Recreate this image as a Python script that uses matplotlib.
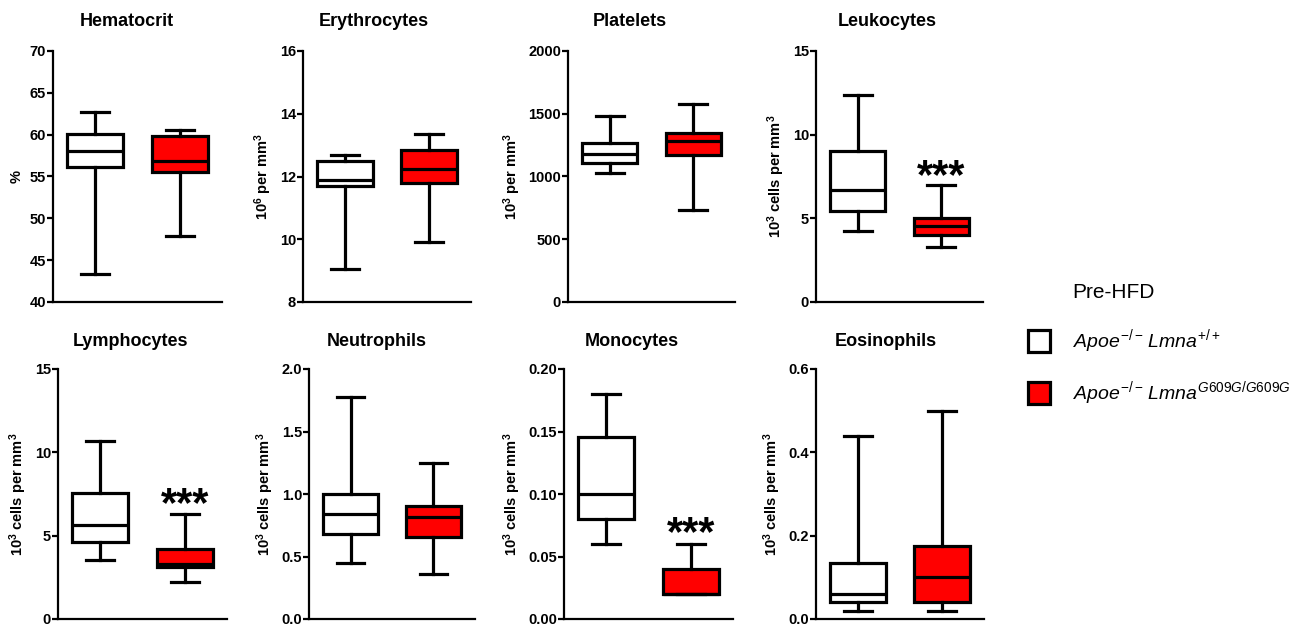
import matplotlib
matplotlib.use('Agg')
import matplotlib.pyplot as plt
from matplotlib.patches import Rectangle

plt.rcParams['font.family'] = ['Liberation Sans', 'DejaVu Sans']
plt.rcParams['mathtext.fontset'] = 'custom'
plt.rcParams['mathtext.rm'] = 'Liberation Sans'
plt.rcParams['mathtext.it'] = 'Liberation Sans:italic'
plt.rcParams['mathtext.bf'] = 'Liberation Sans:bold'

# --- data (min, Q1, median, Q3, max) ---
titles = ['Hematocrit', 'Erythrocytes', 'Platelets', 'Leukocytes',
          'Lymphocytes', 'Neutrophils', 'Monocytes', 'Eosinophils']
cells = '10$^\\mathbf{3}$ cells per mm$^\\mathbf{3}$'
ylabels = ['%', '10$^\\mathbf{6}$ per mm$^\\mathbf{3}$', '10$^\\mathbf{3}$ per mm$^\\mathbf{3}$',
           cells, cells, cells, cells, cells]
ylims = [(40, 70), (8, 16), (0, 2000), (0, 15), (0, 15), (0, 2.0), (0, 0.20), (0, 0.6)]
yticks = [[40, 45, 50, 55, 60, 65, 70], [8, 10, 12, 14, 16], [0, 500, 1000, 1500, 2000],
          [0, 5, 10, 15], [0, 5, 10, 15], [0.0, 0.5, 1.0, 1.5, 2.0],
          [0.00, 0.05, 0.10, 0.15, 0.20], [0.0, 0.2, 0.4, 0.6]]
tickfmt = ['%d', '%d', '%d', '%d', '%d', '%.1f', '%.2f', '%.1f']

wt_min = [43.4, 9.05, 1030, 4.24, 3.54, 0.446, 0.06, 0.02]
wt_q1 = [56.1, 11.7, 1110, 5.42, 4.63, 0.68, 0.08, 0.04]
wt_med = [58.1, 11.9, 1182, 6.67, 5.62, 0.837, 0.10, 0.06]
wt_q3 = [60.05, 12.5, 1267, 9.04, 7.55, 1.0, 0.1456, 0.134]
wt_max = [62.7, 12.7, 1482, 12.39, 10.69, 1.78, 0.18, 0.44]

mut_min = [47.9, 9.9, 736, 3.29, 2.25, 0.359, 0.02, 0.02]
mut_q1 = [55.5, 11.8, 1174, 4.02, 3.12, 0.659, 0.02, 0.04]
mut_med = [56.85, 12.25, 1286, 4.52, 3.32, 0.82, 0.02, 0.102]
mut_q3 = [59.8, 12.85, 1349, 5.02, 4.2, 0.908, 0.04, 0.1745]
mut_max = [60.6, 13.35, 1578, 7.01, 6.3, 1.246, 0.06, 0.50]

# significance marks (*** p<0.001) above the mutant box
stars_y = [None, None, None, 7.45, 6.83, None, 0.068, None]

# --- layout (pixels) ---
W, H = 1304, 626
lefts = [53, 303, 568, 816, 58, 309, 564, 816]
rights = [222, 471, 735, 983, 227, 475, 733, 984]
tops = [51, 51, 51, 51, 369, 369, 369, 369]
bottoms = [302, 302, 302, 302, 619, 619, 619, 619]
title_x = [127, 374, 630, 887, 130, 377, 632, 886]
title_y = [21, 21, 21, 21, 341, 341, 341, 341]

LW = 2.3
fig = plt.figure(figsize=(W / 100, H / 100), dpi=100)

for i in range(8):
    ax = fig.add_axes([lefts[i] / W, 1 - bottoms[i] / H,
                       (rights[i] - lefts[i]) / W, (bottoms[i] - tops[i]) / H])
    stats = [
        dict(whislo=wt_min[i], q1=wt_q1[i], med=wt_med[i], q3=wt_q3[i], whishi=wt_max[i], fliers=[]),
        dict(whislo=mut_min[i], q1=mut_q1[i], med=mut_med[i], q3=mut_q3[i], whishi=mut_max[i], fliers=[]),
    ]
    bp = ax.bxp(stats, positions=[1, 2], widths=0.66, capwidths=0.33, patch_artist=True,
                showfliers=False,
                boxprops=dict(linewidth=LW, edgecolor='black'),
                whiskerprops=dict(linewidth=LW, color='black'),
                capprops=dict(linewidth=LW, color='black'),
                medianprops=dict(linewidth=LW, color='black'))
    bp['boxes'][0].set_facecolor('white')
    bp['boxes'][1].set_facecolor('#ff0000')
    for b in bp['boxes']:
        b.set_joinstyle('miter')

    ax.set_xlim(0.5, 2.5)
    ax.set_ylim(*ylims[i])
    ax.set_yticks(yticks[i])
    ax.set_yticklabels([tickfmt[i] % v for v in yticks[i]], fontweight='bold', fontsize=10.5)
    ax.set_xticks([])
    for s in ['top', 'right']:
        ax.spines[s].set_visible(False)
    for s in ['left', 'bottom']:
        ax.spines[s].set_linewidth(1.6)
    ax.tick_params(axis='y', direction='out', length=4, width=1.6, pad=1)
    ax.set_ylabel(ylabels[i], fontsize=10.5, fontweight='bold', labelpad=4)
    ax.patch.set_alpha(0)

    if stars_y[i] is not None:
        ax.text(2, stars_y[i], '***', ha='center', va='center', fontsize=30, fontweight='bold')

    fig.text(title_x[i] / W, 1 - title_y[i] / H, titles[i], ha='center', va='center',
             fontsize=13, fontweight='bold')

# --- legend ---
fig.text(1072 / W, 1 - 292 / H, 'Pre-HFD', ha='left', va='center', fontsize=15)
legend_labels = [r'$\mathit{Apoe}^{\mathit{-/-}}\,\mathit{Lmna}^{\mathit{+/+}}$',
                 r'$\mathit{Apoe}^{\mathit{-/-}}\,\mathit{Lmna}^{\mathit{G609G/G609G}}$']
legend_colors = ['white', '#ff0000']
legend_y = [341, 393]
for lab, col, yy in zip(legend_labels, legend_colors, legend_y):
    fig.patches.append(Rectangle(((1039 - 11) / W, 1 - (yy + 11) / H), 22 / W, 22 / H,
                                 transform=fig.transFigure, facecolor=col, edgecolor='black',
                                 linewidth=2.3, joinstyle='miter'))
    fig.text(1073 / W, 1 - yy / H, lab, ha='left', va='center', fontsize=14)

fig.savefig('out.png', dpi=100)
